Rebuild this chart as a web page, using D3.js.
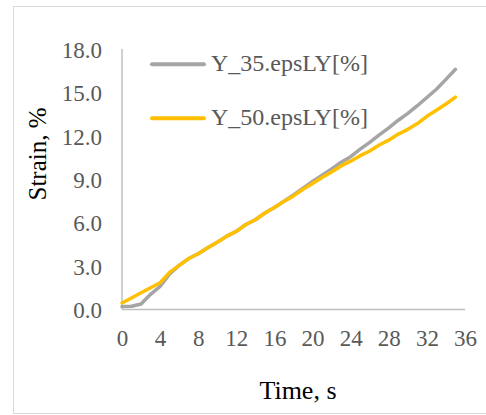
<!DOCTYPE html>
<html>
<head>
<meta charset="utf-8">
<script src="https://cdn.jsdelivr.net/npm/d3@7"></script>
<style>
html,body{margin:0;padding:0;background:#fff;}
svg{display:block;}
text{font-family:"Liberation Serif","Times New Roman",serif;}
</style>
</head>
<body>
<svg id="chart" width="486" height="415"></svg>
<script>
const time = [0,1,2,3,4,5,6,7,8,9,10,11,12,13,14,15,16,17,18,19,20,21,22,23,24,25,26,27,28,29,30,31,32,33,34,35];
const y35 = [0.20,0.22,0.38,1.05,1.60,2.45,3.05,3.52,3.85,4.27,4.65,5.07,5.40,5.87,6.20,6.67,7.05,7.48,7.92,8.38,8.85,9.28,9.72,10.17,10.56,11.08,11.55,12.07,12.55,13.08,13.55,14.08,14.65,15.22,15.90,16.60];
const y50 = [0.45,0.80,1.16,1.50,1.85,2.57,3.05,3.52,3.85,4.27,4.65,5.07,5.40,5.87,6.20,6.67,7.05,7.47,7.85,8.31,8.70,9.12,9.50,9.92,10.25,10.63,10.95,11.37,11.70,12.12,12.45,12.85,13.35,13.77,14.20,14.67];
const seriesNames = ["Y_35.epsLY[%]", "Y_50.epsLY[%]"];
const seriesColors = ["#A5A5A5", "#FFC000"];
const xTicks = [0,4,8,12,16,20,24,28,32,36];
const yTicks = [0,3,6,9,12,15,18];
const xTitle = "Time, s";
const yTitle = "Strain, %";

const svg = d3.select("#chart");
// outer border
svg.append("rect").attr("x",13.5).attr("y",6.5).attr("width",480).attr("height",407)
  .attr("fill","none").attr("stroke","#D9D9D9").attr("stroke-width",1);

const x = d3.scaleLinear().domain([0,36]).range([122,465]);
const y = d3.scaleLinear().domain([0,18]).range([309.5,49]);

// axes lines
svg.append("line").attr("x1",x(0)).attr("x2",x(0)).attr("y1",y(18)).attr("y2",y(0))
  .attr("stroke","#BFBFBF").attr("stroke-width",1.5);
svg.append("line").attr("x1",x(0)).attr("x2",x(36)).attr("y1",y(0)).attr("y2",y(0))
  .attr("stroke","#BFBFBF").attr("stroke-width",1.5);

// y tick labels
const yAxis = d3.axisLeft(y).tickValues(yTicks).tickFormat(d3.format(".1f")).tickSize(0).tickPadding(20);
const gy = svg.append("g").attr("transform",`translate(${x(0)},0)`).call(yAxis);
gy.select(".domain").remove();
gy.selectAll("text").attr("font-family","Liberation Serif").attr("font-size",23).attr("fill","#595959").attr("dy","0.36em");

// x tick labels
const xAxis = d3.axisBottom(x).tickValues(xTicks).tickFormat(d3.format("d")).tickSize(0).tickPadding(20);
const gx = svg.append("g").attr("transform",`translate(0,${y(0)})`).call(xAxis);
gx.select(".domain").remove();
gx.selectAll("text").attr("font-family","Liberation Serif").attr("font-size",23).attr("fill","#595959").attr("dy","0.71em");

// lines
const data = [y35, y50];
const line = d3.line().x((d,i)=>x(time[i])).y(d=>y(d));
data.forEach((vals,k)=>{
  svg.append("path").datum(vals).attr("d",line).attr("fill","none")
    .attr("stroke",seriesColors[k]).attr("stroke-width",3.5)
    .attr("stroke-linejoin","round").attr("stroke-linecap","round");
});

// legend
const legY = [64.3, 118.3];
seriesNames.forEach((n,k)=>{
  svg.append("line").attr("x1",152).attr("x2",204).attr("y1",legY[k]).attr("y2",legY[k])
    .attr("stroke",seriesColors[k]).attr("stroke-width",4).attr("stroke-linecap","round");
  svg.append("text").attr("x",211).attr("y",legY[k]+7).attr("font-size",24).attr("fill","#595959").text(n);
});

// titles
svg.append("text").attr("x",298).attr("y",399).attr("text-anchor","middle").attr("font-size",26).attr("fill","#000").text(xTitle);
svg.append("text").attr("transform","translate(46,154) rotate(-90)").attr("text-anchor","middle").attr("font-size",25).attr("fill","#000").text(yTitle);
</script>
</body>
</html>
